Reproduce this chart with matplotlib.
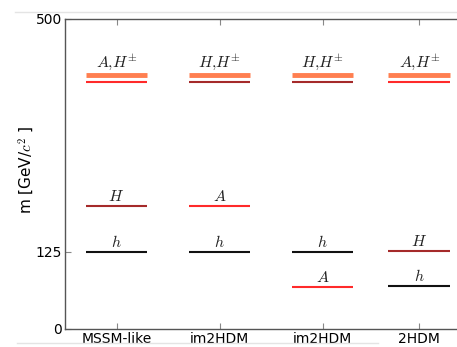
import matplotlib
matplotlib.use("Agg")
import matplotlib.pyplot as plt
from matplotlib.lines import Line2D

plt.rcParams['mathtext.fontset'] = 'cm'
plt.rcParams['font.family'] = ['DejaVu Sans']

categories = ["MSSM-like", "im2HDM", "im2HDM", "2HDM"]
cat_pos = [1, 2, 3, 3.94]

# levels: category index, mass, label, particle kind
lvl_cat   = [0, 0, 0, 0,   1, 1, 1, 1,   2, 2, 2, 2,   3, 3, 3, 3]
lvl_mass  = [410, 399, 199, 125,   410, 399, 199, 125,   410, 399, 125, 68,   410, 399, 126.5, 70]
lvl_label = [r"$A{,}H^{\pm}$", None, r"$H$", r"$h$",
             r"$H{,}H^{\pm}$", None, r"$A$", r"$h$",
             r"$H{,}H^{\pm}$", None, r"$h$", r"$A$",
             r"$A{,}H^{\pm}$", None, r"$H$", r"$h$"]
lvl_kind  = ["Hpm", "A", "H", "h",
             "Hpm", "H", "A", "h",
             "Hpm", "H", "h", "A",
             "Hpm", "A", "H", "h"]

colors = {"Hpm": "#ff7f50", "A": "#ff2a2a", "H": "#a52a2a", "h": "#111111"}
widths = {"Hpm": 3.5, "A": 1.5, "H": 1.5, "h": 1.5}

yticks = [0, 125, 500]

fig = plt.figure(figsize=(4.57, 3.47), dpi=100)
ax = fig.add_axes([65/457, 18/347, 412/457, 310/347])

half = 0.3
for c, m, lab, k in zip(lvl_cat, lvl_mass, lvl_label, lvl_kind):
    x = cat_pos[c]
    ax.plot([x - half, x + half], [m, m], color=colors[k], lw=widths[k],
            solid_capstyle='butt')
    if lab:
        off = 2 if k == "Hpm" else 1
        ax.annotate(lab, (x, m), xytext=(0, off), textcoords="offset points",
                    ha="center", va="bottom", fontsize=11.5, color="#222222")

ax.set_xlim(0.5, 4.5)
ax.set_ylim(0, 500)
ax.set_xticks(cat_pos)
ax.set_xticklabels(categories, fontsize=10)
ax.set_yticks(yticks)
ax.set_yticklabels([str(t) for t in yticks], fontsize=10)
ax.tick_params(direction='in', top=True, right=True, length=4, width=0.8,
               color='#888888', pad=2)
for s in ax.spines.values():
    s.set_color('#555555')
    s.set_linewidth(1.0)
ax.set_ylabel(r"m [GeV/$c^2$ ]", fontsize=11)
ax.yaxis.set_label_coords(-0.07, 0.513)

# faint framing lines of the screenshot
fig.add_artist(Line2D([15/457, 1], [1 - 12/347, 1 - 12/347], color='#e4e4e4', lw=1))
fig.add_artist(Line2D([17/457, 378/457], [1 - 343/347, 1 - 343/347], color='#e4e4e4', lw=1))

fig.savefig("out.png", dpi=100)
